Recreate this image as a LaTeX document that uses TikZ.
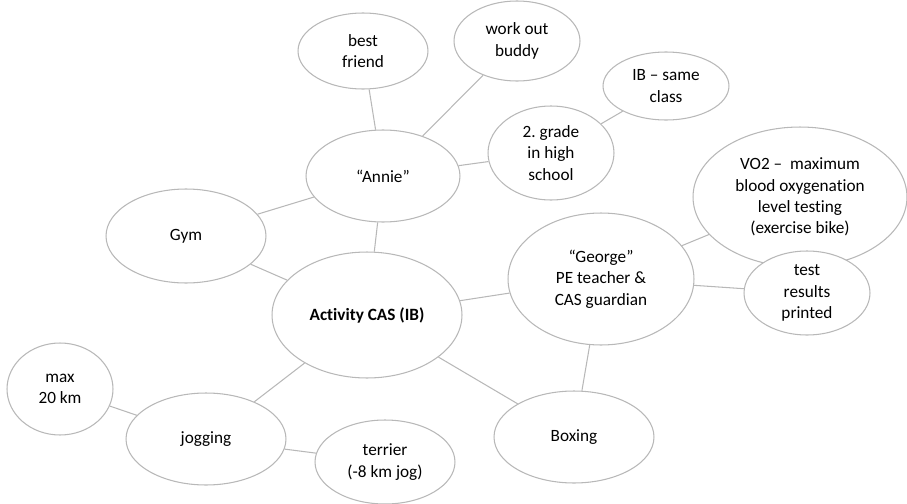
\documentclass[tikz,border=0pt]{standalone}
\usepackage{fontspec}
\setmainfont{Carlito}[Ligatures=NoCommon]
\usetikzlibrary{shapes.geometric}

\begin{document}
\begin{tikzpicture}[x=0.02cm, y=-0.02cm,
    bubble/.style={ellipse, draw=black!28, line width=0.6pt, fill=white, inner sep=0pt,
      align=center, font=\fontsize{9.8}{12.2}\selectfont},
    link/.style={draw=black!28, line width=0.6pt}]
  \useasboundingbox (0,0) rectangle (907,504);

  \node[bubble, minimum width=2.6cm, minimum height=1.52cm] (best) at (363,51) {best\\friend};
  \node[bubble, minimum width=2.52cm, minimum height=1.6cm] (buddy) at (517,41) {work out\\buddy};
  \node[bubble, minimum width=2.52cm, minimum height=1.36cm] (ib) at (666,86) {IB -- same\\class};
  \node[bubble, minimum width=2.52cm, minimum height=1.88cm] (grade) at (551,153) {2.\ grade\\in high\\school};
  \node[bubble, minimum width=3.08cm, minimum height=1.84cm] (annie) at (383,176) {``Annie''};
  \node[bubble, minimum width=3.2cm, minimum height=1.88cm] (gym) at (186,236) {Gym};
  \node[bubble, minimum width=3.8cm, minimum height=2.52cm] (cas) at (367,315) {\textbf{Activity CAS (IB)}};
  \node[bubble, minimum width=2.12cm, minimum height=1.84cm] (maxkm) at (60,389) {max\\20 km};
  \node[bubble, minimum width=3.2cm, minimum height=1.84cm] (jog) at (206,439) {jogging};
  \node[bubble, minimum width=2.8cm, minimum height=1.68cm] (terrier) at (385,462) {terrier\\(-8 km jog)};
  \node[bubble, minimum width=3.2cm, minimum height=1.84cm] (boxing) at (574,437) {Boxing};
  \node[bubble, minimum width=3.72cm, minimum height=2.64cm] (george) at (601,279) {``George''\\PE teacher \&\\CAS guardian};
  \node[bubble, minimum width=4.28cm, minimum height=2.8cm] (vo2) at (800,197) {VO2 --\ \ maximum\\blood oxygenation\\level testing\\(exercise bike)};
  \node[bubble, minimum width=2.52cm, minimum height=1.68cm] (test) at (807,293) {test\\results\\printed};

  \draw[link] (annie) -- (best);
  \draw[link] (annie) -- (buddy);
  \draw[link] (annie) -- (grade);
  \draw[link] (grade) -- (ib);
  \draw[link] (annie) -- (gym);
  \draw[link] (annie) -- (cas);
  \draw[link] (gym) -- (cas);
  \draw[link] (cas) -- (george);
  \draw[link] (cas) -- (jog);
  \draw[link] (cas) -- (boxing);
  \draw[link] (jog) -- (maxkm);
  \draw[link] (jog) -- (terrier);
  \draw[link] (george) -- (vo2);
  \draw[link] (george) -- (test);
  \draw[link] (george) -- (boxing);
\end{tikzpicture}
\end{document}
